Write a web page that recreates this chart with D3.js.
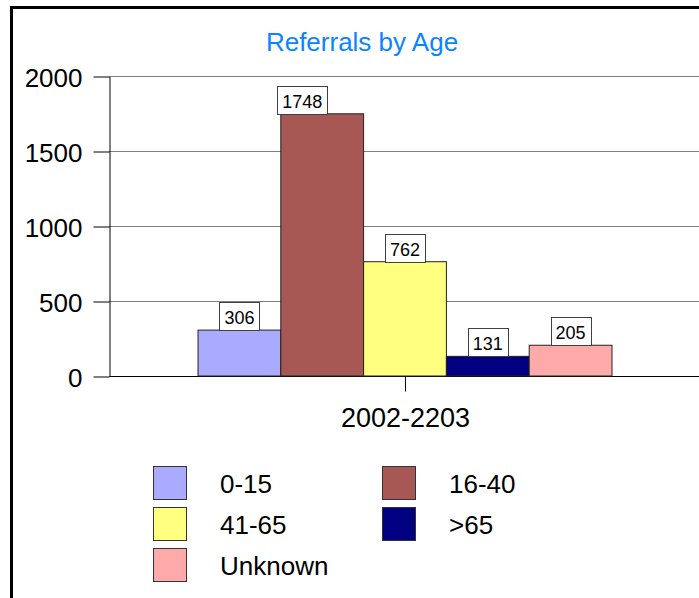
<!DOCTYPE html>
<html>
<head>
<meta charset="utf-8">
<script src="https://cdn.jsdelivr.net/npm/d3@7"></script>
<style>
  body { margin: 0; background: #fff; }
  text { font-family: "Liberation Sans", Arial, sans-serif; }
</style>
</head>
<body>
<div id="chart"></div>
<script>
var categories = ['2002-2203'];
var series = ['0-15', '16-40', '41-65', '>65', 'Unknown'];
var values = [306, 1748, 762, 131, 205];
var yTicks = [0, 500, 1000, 1500, 2000];
var colors = ['#aaaaff', '#a85854', '#ffff80', '#000080', '#ffaaaa'];

var
  w = 699,
  h = 598,
  plotLeft = 109,
  plotRight = 701,
  plotTop = 76,
  plotBottom = 376;

var svg = d3.select('#chart').append('svg')
  .attr('width', w)
  .attr('height', h);

// outer frame, runs past the right and bottom edges
svg.append('rect')
  .attr('x', 11.5).attr('y', 7.5)
  .attr('width', 800).attr('height', 700)
  .attr('fill', '#fff')
  .attr('stroke', '#000')
  .attr('stroke-width', 3);

svg.append('text')
  .attr('x', 362).attr('y', 51)
  .attr('text-anchor', 'middle')
  .attr('font-size', 26)
  .attr('fill', '#0a84ff')
  .text('Referrals by Age');

var y = d3.scaleLinear().domain([0, 2000]).range([plotBottom, plotTop]);
var x0 = d3.scaleBand().domain(categories).range([plotLeft, plotRight]).paddingOuter(0.215);
var x1 = d3.scaleBand().domain(series).range([0, x0.bandwidth()]);

// gridlines
svg.append('g').selectAll('line')
  .data(yTicks.filter(function(d) { return d > 0; }))
  .enter().append('line')
    .attr('x1', plotLeft).attr('x2', w)
    .attr('y1', function(d) { return Math.round(y(d)) + 0.5; })
    .attr('y2', function(d) { return Math.round(y(d)) + 0.5; })
    .attr('stroke', '#808080');

var yAxis = d3.axisLeft(y).tickValues(yTicks).tickFormat(d3.format('d'))
  .tickSize(16).tickPadding(11).tickSizeOuter(0);
var gy = svg.append('g')
  .attr('transform', 'translate(' + (plotLeft + 0.5) + ',0.5)')
  .call(yAxis);
gy.select('.domain').attr('stroke', '#000');
gy.selectAll('.tick line').attr('stroke', '#000');
gy.selectAll('.tick text')
  .attr('font-size', 26)
  .attr('fill', '#000')
  .attr('font-family', '"Liberation Sans", Arial, sans-serif')
  .attr('dy', '0.4em');

var xAxis = d3.axisBottom(x0).tickSize(15).tickPadding(16).tickSizeOuter(0);
var gx = svg.append('g')
  .attr('transform', 'translate(0.5,' + (plotBottom + 0.5) + ')')
  .call(xAxis);
gx.select('.domain').attr('stroke', '#000').attr('d', 'M' + plotLeft + ',0H' + w);
gx.selectAll('.tick line').attr('stroke', '#000');
gx.selectAll('.tick text')
  .attr('font-size', 27)
  .attr('fill', '#000')
  .attr('font-family', '"Liberation Sans", Arial, sans-serif');

var rows = series.map(function(s, i) { return {key: s, value: values[i], color: colors[i]}; });

var group = svg.append('g')
  .attr('transform', 'translate(' + x0(categories[0]) + ',0)');

group.selectAll('rect')
  .data(rows)
  .enter().append('rect')
    .attr('x', function(d) { return x1(d.key); })
    .attr('y', function(d) { return y(d.value); })
    .attr('width', x1.bandwidth())
    .attr('height', function(d) { return y(0) - y(d.value); })
    .attr('fill', function(d) { return d.color; })
    .attr('stroke', '#222')
    .attr('stroke-width', 1);

// value labels in boxes; the 16-40 label sits a bit to the left like the original
var nudge = {'16-40': -20};
var labels = group.selectAll('.lbl')
  .data(rows)
  .enter().append('g')
    .attr('class', 'lbl');

labels.each(function(d) {
  var g = d3.select(this);
  var cx = x1(d.key) + x1.bandwidth() / 2 + (nudge[d.key] || 0);
  var by = y(d.value);
  var t = g.append('text')
    .attr('x', cx)
    .attr('y', by - 6)
    .attr('text-anchor', 'middle')
    .attr('font-size', 18)
    .attr('fill', '#000')
    .text(d.value);
  var tw = t.node().getComputedTextLength() + 10;
  g.insert('rect', 'text')
    .attr('x', Math.round(cx - tw / 2) + 0.5)
    .attr('y', Math.round(by - 28) + 0.5)
    .attr('width', Math.round(tw))
    .attr('height', 28)
    .attr('fill', '#fff')
    .attr('stroke', '#404040');
});

// legend
var legend = svg.append('g').selectAll('g')
  .data(rows)
  .enter().append('g')
    .attr('transform', function(d, i) {
      return 'translate(' + (i % 2 === 0 ? 153 : 382) + ',' + (466 + Math.floor(i / 2) * 41) + ')';
    });

legend.append('rect')
  .attr('x', 0.5).attr('y', 0.5)
  .attr('width', 33).attr('height', 33)
  .attr('fill', function(d) { return d.color; })
  .attr('stroke', '#333');

legend.append('text')
  .attr('x', 67).attr('y', 27)
  .attr('font-size', 26)
  .attr('fill', '#000')
  .text(function(d) { return d.key; });
</script>
</body>
</html>
